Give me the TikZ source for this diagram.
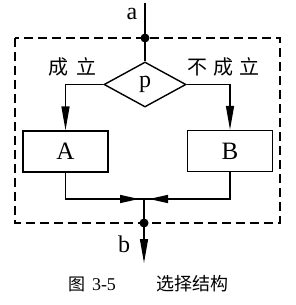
\documentclass[tikz,border=0pt]{standalone}
\usepackage{fontspec}
\setmainfont{Liberation Serif}
\newfontfamily\cjk{Noto Sans CJK SC}
\usetikzlibrary{arrows.meta,shapes.geometric}
\begin{document}
\begin{tikzpicture}[x=1pt,y=-1pt,line width=1.4pt,
  flow/.style={-{Triangle[length=24pt,width=8pt]}},
  merge/.style={-{Triangle[length=19pt,width=8pt]},shorten >=5pt},
  box/.style={draw,rectangle,minimum width=85pt,minimum height=41pt,inner sep=0pt,font=\fontsize{25}{28}\selectfont},
  dec/.style={draw,diamond,minimum width=82pt,minimum height=45pt,inner sep=0pt,font=\fontsize{24}{28}\selectfont},
  dot/.style={circle,fill=black,inner sep=0pt,minimum size=9pt},
  lat/.style={font=\fontsize{24}{28}\selectfont,inner sep=0pt},
  zh/.style={font=\cjk\fontsize{20}{24}\selectfont,inner sep=0pt},
  capt/.style={inner sep=0pt}]
\useasboundingbox (0,0) rectangle (295,305);
\draw[dash pattern=on 9pt off 5pt,line width=1.6pt] (15,38) rectangle (280,223);
\coordinate (top) at (145,3);
\node[dot] (d1) at (145,38) {};
\node[dec] (p) at (145,84.5) {p};
\node[box] (A) at (65.5,151.5) {A};
\node[box] (B) at (230,151) {B};
\coordinate (j) at (144,199);
\node[dot] (d2) at (144,223) {};
\coordinate (end) at (144,263);
\node[lat] (a) at (132,14) {a};
\node[lat] (b) at (124,244) {b};
\node[zh] (l1) at (72,67) {成\hspace{8pt}立};
\node[zh] (l2) at (223,67) {不\hspace{6pt}成\hspace{6pt}立};
\node[capt] (c1) at (92,284) {{\cjk\fontsize{17}{20}\selectfont 图}\hspace{7pt}{\fontsize{18}{20}\selectfont 3-5}};
\node[capt] (c2) at (192,284) {\cjk\fontsize{18}{20}\selectfont 选择结构};
\draw (top) -- (d1.center) -- (p.north);
\draw[flow] (p.west) -| (A.north);
\draw[flow] (p.east) -| (B.north);
\draw (A.south) |- (j);
\draw (B.south) |- (j);
\draw[merge] (A.south) |- (j);
\draw[merge] (B.south) |- (j);
\draw[flow] (j) -- (d2.center) -- (end);
\end{tikzpicture}
\end{document}
